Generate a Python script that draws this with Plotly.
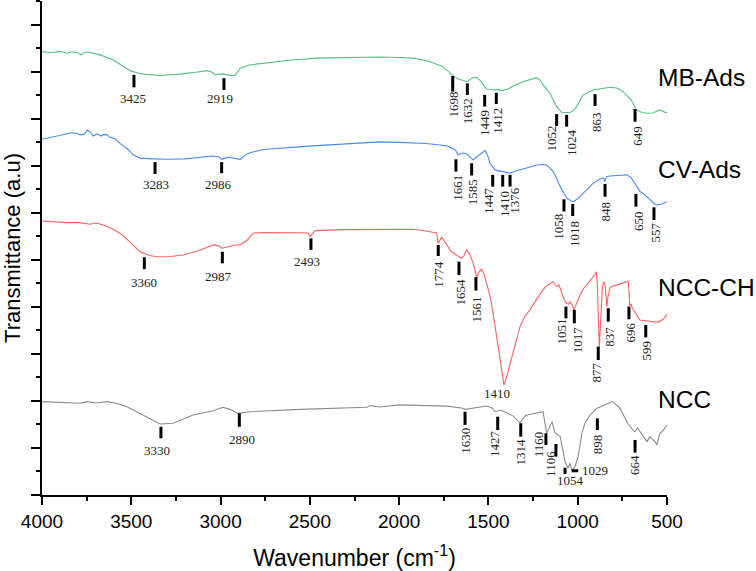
import plotly.graph_objects as go

# ---------------- data (wavenumber, transmittance a.u.) ----------------
mb_wn = [4000, 3950, 3900, 3860, 3830, 3800, 3780, 3760, 3730, 3700, 3675, 3600, 3550, 3507, 3460,
         3420, 3339, 3227, 3130, 3076, 3050, 3031, 2990, 2970, 2947, 2920, 2891, 2840, 2740, 2600,
         2460, 2300, 2107, 2000, 1922, 1840, 1754, 1720, 1698, 1670, 1650, 1620, 1590, 1566, 1540,
         1510, 1480, 1463, 1440, 1424, 1390, 1362, 1306, 1260, 1230, 1210, 1194, 1155, 1118, 1090,
         1045, 1020, 1006, 970, 914, 880, 863, 820, 780, 746, 700, 670, 640, 612, 580, 540, 500]
mb_y = [18.85, 18.80, 18.86, 18.78, 18.84, 18.80, 18.70, 18.83, 18.81, 18.74, 18.71, 18.49, 18.25, 18.04, 17.93,
        17.88, 17.83, 17.89, 17.98, 18.04, 17.98, 17.87, 17.90, 17.86, 17.84, 17.83, 18.14, 18.28, 18.38, 18.49,
        18.57, 18.60, 18.62, 18.60, 18.57, 18.45, 18.21, 17.98, 17.81, 17.69, 17.64, 17.57, 17.73, 17.76, 17.56,
        17.25, 17.24, 17.22, 17.23, 17.19, 17.26, 17.39, 17.57, 17.69, 17.74, 17.64, 17.43, 17.08, 16.51, 16.27,
        16.25, 16.37, 16.51, 17.01, 17.22, 17.26, 17.28, 17.33, 17.30, 17.15, 16.79, 16.37, 16.26, 16.23, 16.24, 16.37, 16.23]

cv_wn = [4000, 3940, 3899, 3860, 3832, 3800, 3787, 3760, 3748, 3730, 3714, 3690, 3670, 3658, 3640,
         3619, 3590, 3563, 3520, 3490, 3451, 3380, 3300, 3200, 3100, 3042, 3010, 2992, 2970, 2947,
         2920, 2891, 2860, 2835, 2760, 2684, 2560, 2460, 2292, 2107, 2000, 1922, 1850, 1771, 1730,
         1704, 1685, 1670, 1645, 1620, 1600, 1586, 1565, 1547, 1530, 1519, 1505, 1491, 1463, 1440,
         1418, 1400, 1379, 1350, 1306, 1270, 1230, 1200, 1174, 1155, 1138, 1118, 1098, 1075, 1059,
         1040, 1026, 1000, 970, 940, 914, 885, 864, 855, 848, 840, 820, 780, 740, 724, 700, 680,
         651, 630, 612, 590, 570, 556, 530, 500]
cv_y = [15.12, 15.22, 15.31, 15.35, 15.40, 15.37, 15.31, 15.35, 15.52, 15.44, 15.26, 15.35, 15.26, 15.31, 15.33,
        15.21, 15.14, 14.95, 14.71, 14.46, 14.32, 14.29, 14.27, 14.29, 14.35, 14.41, 14.37, 14.27, 14.33, 14.36,
        14.31, 14.27, 14.46, 14.55, 14.69, 14.74, 14.80, 14.85, 14.92, 15.01, 14.99, 14.98, 14.94, 14.88, 14.84,
        14.74, 14.67, 14.46, 14.54, 14.50, 14.37, 14.24, 14.37, 14.46, 14.58, 14.64, 14.46, 14.10, 13.82, 13.78,
        13.75, 13.71, 13.68, 13.76, 13.85, 13.95, 14.03, 14.05, 14.03, 13.90, 13.75, 13.48, 13.11, 12.80, 12.61,
        12.52, 12.47, 12.59, 12.83, 13.05, 13.25, 13.39, 13.47, 13.46, 13.32, 13.52, 13.56, 13.58, 13.61, 13.61, 13.48, 13.22,
        12.90, 12.80, 12.68, 12.54, 12.37, 12.33, 12.37, 12.47]

ch_wn = [4000, 3920, 3860, 3800, 3760, 3731, 3700, 3675, 3620, 3563, 3500, 3451, 3400, 3356, 3280,
         3210, 3120, 3042, 3010, 2992, 2960, 2920, 2891, 2850, 2818, 2760, 2555, 2510, 2499, 2485,
         2471, 2300, 2107, 1922, 1850, 1790, 1781, 1762, 1740, 1706, 1680, 1650, 1635, 1622, 1605,
         1585, 1566, 1552, 1538, 1525, 1510, 1490, 1474, 1460, 1444, 1425, 1413, 1400, 1379, 1350,
         1323, 1295, 1267, 1240, 1211, 1190, 1166, 1150, 1138, 1128, 1118, 1105, 1090, 1075, 1062,
         1051, 1043, 1030, 1021, 1005, 987, 965, 943, 920, 905, 895, 890, 884, 879, 874, 868, 862,
         855, 848, 842, 837, 830, 820, 809, 780, 750, 725, 716, 708, 700, 695, 680, 652, 615, 580,
         550, 520, 500]
ch_y = [11.65, 11.61, 11.58, 11.59, 11.54, 11.51, 11.56, 11.52, 11.37, 11.13, 10.71, 10.34, 10.18, 10.13, 10.14,
        10.20, 10.39, 10.63, 10.59, 10.49, 10.54, 10.63, 10.63, 10.84, 11.13, 11.16, 11.15, 11.14, 10.98, 11.10,
        11.24, 11.28, 11.30, 11.30, 11.22, 11.14, 10.70, 10.96, 10.71, 10.34, 10.20, 10.06, 10.20, 10.42, 10.25,
        9.85, 9.26, 9.49, 9.59, 9.40, 9.00, 8.42, 7.73, 7.02, 6.31, 5.17, 4.68, 4.97, 5.60, 6.38,
        7.16, 7.61, 7.87, 8.21, 8.50, 8.76, 8.93, 9.03, 9.07, 8.97, 8.86, 8.93, 8.64, 8.29, 8.15,
        8.12, 8.22, 8.08, 7.87, 8.16, 8.50, 8.80, 9.00, 9.23, 9.35, 9.49, 8.93, 7.44, 6.31, 7.02, 8.29, 8.80,
        9.06, 9.01, 8.50, 8.01, 8.46, 8.80, 8.86, 8.93, 9.01, 9.07, 9.04, 8.04, 8.12, 7.95, 7.78, 7.44, 7.41, 7.38,
        7.34, 7.48, 7.68]

ncc_wn = [4000, 3900, 3787, 3748, 3700, 3636, 3580, 3524, 3434, 3339, 3266, 3154, 3042, 2986, 2947,
          2902, 2835, 2555, 2180, 2163, 2107, 1995, 1732, 1650, 1631, 1560, 1510, 1480, 1463, 1430,
          1396, 1362, 1323, 1295, 1284, 1230, 1194, 1174, 1160, 1144, 1127, 1098, 1071, 1054, 1043,
          1034, 1015, 998, 976, 959, 931, 892, 850, 820, 804, 764, 720, 690, 680, 665, 651, 634,
          612, 596, 567, 556, 540, 520, 500]
ncc_y = [3.97, 3.93, 3.90, 3.97, 3.91, 3.97, 3.89, 3.75, 3.40, 3.02, 3.05, 3.40, 3.58, 3.73, 3.64,
         3.47, 3.54, 3.64, 3.73, 3.80, 3.74, 3.83, 3.78, 3.70, 3.64, 3.74, 3.78, 3.70, 3.54, 3.61,
         3.50, 3.36, 3.06, 3.36, 3.40, 3.47, 3.54, 2.62, 2.85, 3.12, 2.64, 2.48, 1.42, 1.14, 1.35,
         1.06, 1.20, 1.63, 2.64, 3.06, 3.40, 3.69, 3.83, 3.92, 3.97, 3.69, 3.05, 2.76, 2.69, 2.85, 2.69, 2.55,
         2.27, 2.48, 2.27, 2.13, 2.62, 2.76, 2.98]

series_names = ["MB-Ads", "CV-Ads", "NCC-CH", "NCC"]
series_wn = [mb_wn, cv_wn, ch_wn, ncc_wn]
series_y = [mb_y, cv_y, ch_y, ncc_y]
series_colors = ["#55c07f", "#4a8af0", "#ff6060", "#8c8c8c"]
series_label_y = [17.74, 13.84, 8.82, 4.08]

# peak labels: text, bar position (wn), bar top / bottom (a.u.), label position, rotation
peak_text = ["3425", "2919", "1698", "1632", "1449", "1412", "1052", "1024", "863", "649",
             "3283", "2986", "1661", "1585", "1447", "1410", "1376", "1058", "1018", "848", "650", "557",
             "3360", "2987", "2493", "1774", "1654", "1561", "1051", "1017", "877", "837", "696", "599",
             "3330", "2890", "1630", "1427", "1314", "1160", "1106", "1054", "898", "664"]
peak_bar_x = [3485, 2981, 1700, 1618, 1521, 1456, 1118, 1062, 903, 679,
              3367, 2994, 1682, 1594, 1476, 1420, 1379, 1077, 1028, 847, 674, 573,
              3427, 2990, 2494, 1781, 1665, 1570, 1066, 1019, 885, 829, 713, 619,
              3334, 2895, 1631, 1448, 1319, 1178, 1122, 1071, 890, 679]
peak_bar_top = [17.86, 17.72, 17.81, 17.50, 17.01, 17.10, 16.19, 16.16, 17.04, 16.41,
                14.15, 14.15, 14.27, 14.10, 13.61, 13.61, 13.61, 12.57, 12.37, 13.22, 12.80, 12.23,
                10.11, 10.34, 10.91, 10.63, 9.92, 9.26, 8.01, 7.87, 6.31, 7.94, 8.01, 7.23,
                2.90, 3.47, 3.54, 3.33, 3.05, 2.62, 2.17, 1.16, 3.26, 2.34]
peak_bar_bot = [17.33, 17.22, 17.15, 17.01, 16.51, 16.62, 15.69, 15.66, 16.54, 15.87,
                13.65, 13.68, 13.75, 13.58, 13.11, 13.11, 13.11, 12.05, 11.86, 12.68, 12.26, 11.69,
                9.60, 9.85, 10.42, 10.16, 9.35, 8.69, 7.51, 7.30, 5.74, 7.37, 7.47, 6.70,
                2.41, 2.90, 2.98, 2.76, 2.48, 2.13, 1.63, 0.89, 2.76, 1.80]
peak_lab_x = [3490, 3003, 1696, 1618, 1521, 1446, 1146, 1034, 894, 670,
              3363, 3009, 1678, 1588, 1501, 1413, 1351, 1109, 1015, 842, 661, 567,
              3429, 3013, 2518, 1777, 1659, 1566, 1090, 997, 894, 819, 707, 614,
              3358, 2878, 1626, 1463, 1323, 1215, 1150, 1043, 885, 679]
peak_lab_y = [16.87, 16.84, 16.62, 16.33, 15.80, 15.91, 15.14, 14.99, 15.84, 15.26,
              13.22, 13.22, 13.05, 12.86, 12.51, 12.37, 12.51, 11.41, 11.10, 12.05, 11.66, 11.16,
              9.03, 9.28, 9.92, 9.40, 8.61, 7.87, 6.94, 6.59, 5.19, 6.73, 6.91, 6.13,
              1.91, 2.34, 2.30, 2.17, 1.81, 2.17, 1.32, 0.60, 2.17, 1.28]
peak_lab_rot = [0, 0, -90, -90, -90, -90, -90, -90, -90, -90,
                0, 0, -90, -90, -90, -90, -90, -90, -90, -90, -90, -90,
                0, 0, 0, -90, -90, -90, -90, -90, -90, -90, -90, -90,
                0, 0, -90, -90, -90, -90, -90, 0, -90, -90]

# extra labels without vertical bars
free_text = ["1410", "1029"]
free_x = [1450, 987]
free_y = [4.32, 1.03]
side_bar_x = [1034, 997]   # short horizontal pointer for 1029
side_bar_y = [1.03, 1.03]

# ---------------- figure ----------------
fig = go.Figure()
for name, wx, wy, col in zip(series_names, series_wn, series_y, series_colors):
    fig.add_trace(go.Scatter(x=wx, y=wy, mode="lines", name=name,
                             line=dict(color=col, width=1.1), hoverinfo="skip"))

bx, by = [], []
for x0, t, b in zip(peak_bar_x, peak_bar_top, peak_bar_bot):
    bx += [x0, x0, None]
    by += [t, b, None]
bx += side_bar_x + [None]
by += side_bar_y + [None]
fig.add_trace(go.Scatter(x=bx, y=by, mode="lines", line=dict(color="black", width=3),
                         hoverinfo="skip", showlegend=False))

annotations = []
serif = dict(family="Liberation Serif, Times New Roman, serif", size=13, color="#222222")
for t, lx, ly, rot in zip(peak_text, peak_lab_x, peak_lab_y, peak_lab_rot):
    annotations.append(dict(x=lx, y=ly, xref="x", yref="y", text=t, showarrow=False,
                            textangle=rot, xanchor="center", yanchor="middle", font=serif))
annotations.append(dict(x=free_x[0], y=free_y[0], xref="x", yref="y", text=free_text[0],
                        showarrow=False, xanchor="center", yanchor="middle", font=serif))
annotations.append(dict(x=free_x[1], y=free_y[1], xref="x", yref="y", text=free_text[1],
                        showarrow=False, xanchor="left", yanchor="middle", font=serif))
for name, ly in zip(series_names, series_label_y):
    annotations.append(dict(x=555, y=ly, xref="x", yref="y", text=name, showarrow=False,
                            xanchor="left", yanchor="middle", borderpad=0,
                            font=dict(family="Liberation Sans, Arial, sans-serif", size=24.5, color="black")))

sans = "Liberation Sans, Arial, sans-serif"
fig.update_layout(
    width=756, height=571,
    margin=dict(l=42, r=89, t=1, b=76),
    paper_bgcolor="white", plot_bgcolor="white",
    showlegend=False,
    annotations=annotations,
    xaxis=dict(range=[4000, 500], dtick=500, tick0=500, showgrid=False, zeroline=False,
               showline=True, linecolor="black", linewidth=2,
               ticks="outside", ticklen=8, tickwidth=2, tickcolor="black",
               minor=dict(dtick=250, ticks="outside", ticklen=4, tickwidth=2, tickcolor="black"),
               tickfont=dict(family=sans, size=19, color="black"),
               ticklabelstandoff=0,
               title=dict(text="Wavenumber (cm<sup>-1</sup>)", font=dict(family=sans, size=23, color="black"),
                          standoff=27),
               automargin=False),
    yaxis=dict(range=[0, 21], dtick=2, tick0=0, showgrid=False, zeroline=False,
               showline=True, linecolor="black", linewidth=2,
               ticks="outside", ticklen=9, tickwidth=2, tickcolor="black",
               minor=dict(dtick=1, ticks="outside", ticklen=4, tickwidth=2, tickcolor="black"),
               showticklabels=False,
               title=dict(text="Transmittance (a.u)", font=dict(family=sans, size=22, color="black"),
                          standoff=8),
               automargin=False),
)

fig.write_html("out.html", config={"displayModeBar": False},
               post_script="document.body.style.margin='0';document.body.style.overflow='hidden';")
